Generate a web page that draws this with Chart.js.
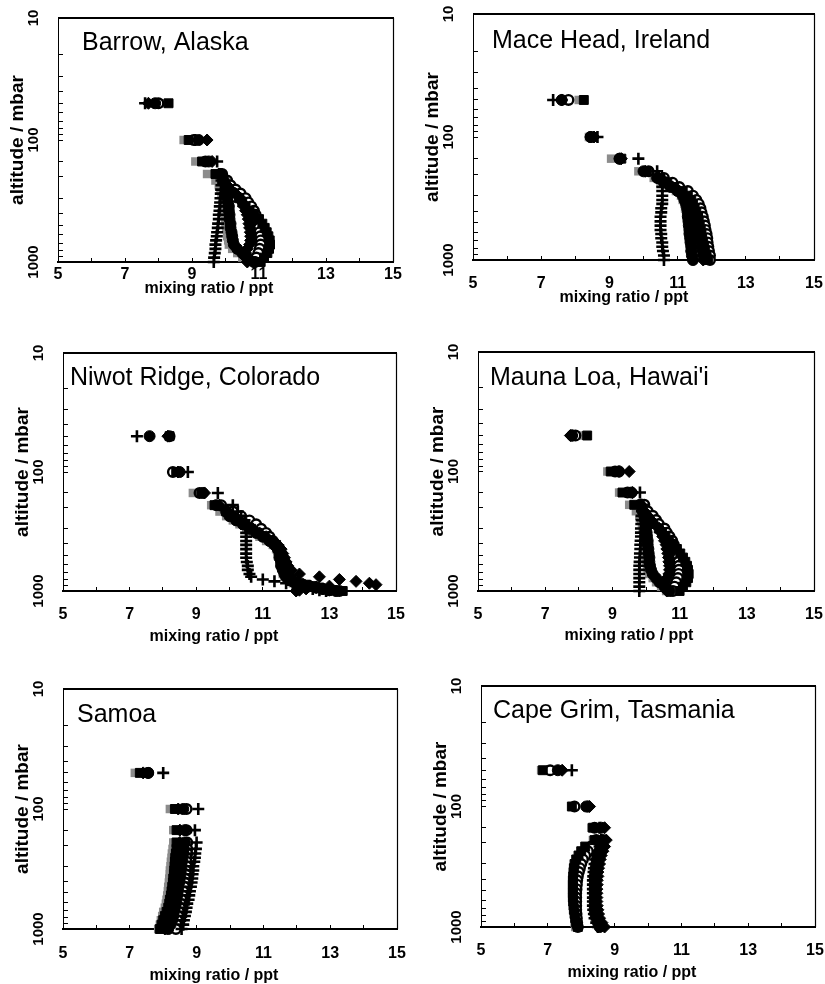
<!DOCTYPE html>
<html><head><meta charset="utf-8">
<script src="https://cdn.jsdelivr.net/npm/chart.js@4.4.1/dist/chart.umd.min.js"></script>
<style>
html,body{margin:0;padding:0;background:#fff;}
body{width:825px;height:984px;position:relative;overflow:hidden;}
canvas{position:absolute;}
</style></head><body>
<script>
// ---------- data ----------
const levels = [50,100,150,190,215,235,255,275,300,325,350,380,410,445,485,525,570,615,665,720,780,845,920,1000]; // mbar
const niwotLevels = [50,100,150,190,215,235,255,275,300,325,350,380,410,445,485,525,570,615,665,720,760,800,830,860,885,910,935,960,985,1000];
const xTickLabels = [5,7,9,11,13,15];
const yTickLabels = [10,100,1000];
const stationNames = ['Barrow, Alaska','Mace Head, Ireland','Niwot Ridge, Colorado',"Mauna Loa, Hawai'i",'Samoa','Cape Grim, Tasmania'];
const xAxisTitle = 'mixing ratio / ppt';
const yAxisTitle = 'altitude / mbar';

const barrowOpen    = [8.0,9.05,9.4,9.9,10.05,10.15,10.3,10.45,10.6,10.68,10.77,10.85,10.9,10.95,10.98,11.0,11.02,11.04,11.05,11.05,11.02,10.98,10.92,10.88];
const barrowBlack   = [8.3,8.9,9.3,9.7,9.9,10.0,10.1,10.25,10.4,10.5,10.6,10.72,10.85,11.0,11.1,11.17,11.23,11.28,11.32,11.33,11.3,11.25,11.15,11.05];
const barrowDiamond = [7.7,9.45,9.6,9.8,9.95,10.05,10.15,10.3,10.45,10.5,10.55,10.6,10.65,10.68,10.7,10.72,10.74,10.75,10.75,10.72,10.65,10.6,10.6,10.65];
const barrowFilled  = [7.9,9.2,9.5,9.85,9.95,10.0,10.02,10.05,10.05,10.08,10.1,10.1,10.12,10.12,10.15,10.15,10.18,10.2,10.22,10.25,10.35,10.5,10.65,10.85];
const barrowGrey    = [8.1,8.75,9.1,9.45,9.7,9.8,9.85,9.88,9.9,9.92,9.95,9.95,9.98,10.0,10.0,10.02,10.05,10.05,10.08,10.1,10.2,10.35,10.5,10.7];
const barrowPlus    = [7.6,9.1,9.75,9.85,9.88,9.88,9.87,9.86,9.85,9.84,9.83,9.82,9.8,9.8,9.78,9.77,9.75,9.74,9.72,9.7,9.7,9.68,9.66,9.65];

const maceOpen    = [7.8,8.45,9.3,10.15,10.6,10.85,11.05,11.3,11.45,11.55,11.62,11.67,11.7,11.74,11.77,11.8,11.82,11.85,11.87,11.88,11.9,11.92,11.95,11.95];
const maceBlack   = [8.25,8.5,9.35,10.1,10.5,10.7,10.9,11.15,11.3,11.4,11.45,11.5,11.55,11.6,11.62,11.65,11.68,11.7,11.72,11.75,11.78,11.8,11.85,11.9];
const maceDiamond = [7.6,8.55,9.35,10.05,10.45,10.65,10.85,11.05,11.2,11.3,11.35,11.4,11.45,11.5,11.52,11.55,11.58,11.6,11.62,11.65,11.68,11.7,11.72,11.75];
const maceFilled  = [7.6,8.45,9.3,10.0,10.4,10.6,10.8,11.0,11.15,11.2,11.25,11.28,11.3,11.3,11.32,11.33,11.35,11.35,11.37,11.38,11.4,11.4,11.42,11.45];
const maceGrey    = [8.1,8.4,9.05,9.85,10.3,10.5,10.75,10.95,11.1,11.15,11.2,11.22,11.25,11.27,11.28,11.3,11.3,11.32,11.33,11.35,11.37,11.4,11.42,11.45];
const macePlus    = [7.35,8.65,9.85,10.4,10.55,10.55,10.55,10.55,10.55,10.55,10.55,10.52,10.52,10.5,10.5,10.5,10.5,10.52,10.52,10.55,10.55,10.57,10.6,10.6];

const niwotOpen    = [8.2,8.3,9.1,9.75,10.1,10.35,10.6,10.8,10.95,11.1,11.2,11.3,11.4,11.5,11.55,11.6,11.65,11.7,11.72,11.75,11.8,11.85,11.9,12.0,12.2,12.4,12.6,12.8,13.0,13.3];
const niwotBlack   = [8.2,8.4,9.15,9.55,9.9,10.05,10.25,10.45,10.65,10.85,11.05,11.25,11.4,11.5,11.55,11.6,11.62,11.65,11.7,11.75,11.8,11.85,11.95,12.1,12.3,12.5,12.7,12.9,13.1,13.4];
const niwotDiamond = [8.15,8.45,9.25,9.7,9.95,10.1,10.3,10.5,10.7,10.9,11.1,11.3,11.45,11.55,11.6,11.65,11.7,11.75,11.85,12.1,12.7,13.3,13.8,14.2,14.4,13.0,12.6,12.3,12.1,12.0];
const niwotFilled  = [7.6,8.5,9.2,9.6,9.9,10.0,10.2,10.4,10.6,10.8,11.0,11.2,11.35,11.45,11.5,11.5,11.55,11.55,11.6,11.65,11.7,11.8,11.9,12.0,12.2,12.4,12.6,12.8,13.0,13.2];
const niwotGrey    = [8.2,8.3,8.9,9.45,9.7,9.9,10.1,10.3,10.5,10.7,10.9,11.1,11.3,11.4,11.45,11.5,11.5,11.55,11.6,11.6,11.65,11.7,11.8,11.9,12.1,12.3,12.5,12.7,12.9,13.1];
const niwotPlus    = [7.22,8.75,9.65,10.1,10.25,10.35,10.45,10.5,10.5,10.5,10.5,10.5,10.5,10.5,10.5,10.5,10.52,10.55,10.55,10.6,10.65,11.0,11.35,11.7,11.9,12.1,12.3,12.5,12.7,12.9];

const maunaOpen    = [7.9,9.08,9.45,9.95,10.05,10.2,10.3,10.38,10.55,10.62,10.7,10.78,10.83,10.88,10.92,10.95,10.97,10.98,10.98,10.97,10.95,10.9,10.85,10.8];
const maunaBlack   = [8.25,8.95,9.3,9.65,9.9,10.0,10.1,10.2,10.38,10.48,10.58,10.68,10.8,10.92,11.02,11.1,11.17,11.22,11.25,11.27,11.25,11.2,11.1,11.0];
const maunaDiamond = [7.75,9.5,9.6,9.85,9.95,10.05,10.15,10.25,10.4,10.45,10.5,10.55,10.6,10.62,10.65,10.67,10.68,10.7,10.7,10.68,10.62,10.58,10.58,10.62];
const maunaFilled  = [7.8,9.2,9.57,9.82,9.9,9.95,9.97,10.0,10.0,10.02,10.03,10.05,10.05,10.07,10.08,10.1,10.1,10.12,10.15,10.2,10.3,10.4,10.55,10.7];
const maunaGrey    = [8.0,8.85,9.2,9.5,9.7,9.8,9.85,9.88,9.9,9.92,9.95,9.95,9.97,9.98,10.0,10.0,10.02,10.03,10.05,10.1,10.2,10.3,10.45,10.6];
const maunaPlus    = [7.8,9.2,9.82,9.88,9.88,9.87,9.87,9.86,9.85,9.85,9.85,9.84,9.83,9.83,9.82,9.82,9.81,9.8,9.8,9.8,9.8,9.8,9.8,9.8];

const samoaOpen    = [7.55,8.7,8.7,8.72,8.72,8.72,8.7,8.7,8.7,8.68,8.68,8.66,8.65,8.63,8.6,8.58,8.55,8.52,8.5,8.47,8.45,8.42,8.4,8.38];
const samoaBlack   = [7.3,8.35,8.4,8.4,8.4,8.38,8.36,8.35,8.34,8.33,8.32,8.3,8.29,8.27,8.25,8.23,8.2,8.18,8.15,8.1,8.05,8.0,7.95,7.9];
const samoaDiamond = [7.4,8.45,8.5,8.5,8.5,8.48,8.47,8.46,8.45,8.44,8.42,8.4,8.38,8.36,8.34,8.32,8.3,8.28,8.25,8.22,8.18,8.14,8.1,8.05];
const samoaFilled  = [7.55,8.6,8.65,8.65,8.62,8.6,8.58,8.56,8.55,8.53,8.52,8.5,8.48,8.46,8.44,8.42,8.4,8.38,8.35,8.32,8.3,8.27,8.22,8.15];
const samoaGrey    = [7.15,8.2,8.3,8.3,8.28,8.26,8.25,8.23,8.22,8.2,8.2,8.18,8.17,8.15,8.14,8.12,8.1,8.08,8.05,8.0,7.97,7.93,7.9,7.85];
const samoaPlus    = [8.0,9.05,8.95,9.0,8.98,8.96,8.95,8.93,8.9,8.9,8.88,8.87,8.85,8.83,8.8,8.78,8.76,8.72,8.7,8.68,8.65,8.62,8.6,8.55];

const capeOpen    = [7.07,7.8,8.4,8.45,8.3,8.2,8.12,8.05,8.0,7.96,7.93,7.9,7.88,7.87,7.86,7.85,7.85,7.85,7.85,7.85,7.86,7.87,7.88,7.9];
const capeBlack   = [6.85,7.72,8.35,8.4,8.12,8.0,7.92,7.85,7.8,7.78,7.77,7.76,7.75,7.75,7.75,7.75,7.75,7.76,7.77,7.78,7.8,7.82,7.85,7.9];
const capeDiamond = [7.43,8.25,8.7,8.75,8.7,8.65,8.6,8.57,8.55,8.52,8.5,8.5,8.48,8.48,8.47,8.47,8.47,8.47,8.48,8.5,8.52,8.55,8.62,8.7];
const capeFilled  = [7.3,8.15,8.6,8.65,8.6,8.55,8.5,8.47,8.45,8.43,8.42,8.4,8.4,8.4,8.4,8.4,8.4,8.4,8.4,8.4,8.42,8.45,8.5,8.55];
const capeGrey    = [6.8,7.75,8.3,8.35,8.15,8.05,7.97,7.92,7.88,7.85,7.83,7.81,7.8,7.8,7.8,7.79,7.79,7.79,7.79,7.8,7.8,7.8,7.8,7.82];
const capePlus    = [7.72,8.2,8.55,8.6,8.55,8.5,8.45,8.42,8.4,8.38,8.37,8.36,8.35,8.35,8.35,8.35,8.35,8.35,8.35,8.36,8.38,8.4,8.45,8.5];

// ---------- styling / layout ----------
const FONT = '"Liberation Sans", Arial, Helvetica, sans-serif';
// listed top-most first (Chart.js draws dataset 0 last)
const stylePlus    = {pointStyle:'cross',   pointRadius:6,   backgroundColor:'#000',    borderColor:'#000',    pointBorderWidth:2.6};
const styleBlack   = {pointStyle:'rect',    pointRadius:6.3, backgroundColor:'#000',    borderColor:'#000',    pointBorderWidth:1};
const styleDiamond = {pointStyle:'rectRot', pointRadius:6,   backgroundColor:'#000',    borderColor:'#000',    pointBorderWidth:1};
const styleFilled  = {pointStyle:'circle',  pointRadius:5.5, backgroundColor:'#000',    borderColor:'#000',    pointBorderWidth:1};
const styleOpen    = {pointStyle:'circle',  pointRadius:4.8, backgroundColor:'#fff',    borderColor:'#000',    pointBorderWidth:2.4};
const styleGrey    = {pointStyle:'rect',    pointRadius:6,   backgroundColor:'#8c8c8c', borderColor:'#8c8c8c', pointBorderWidth:0};
const seriesStyles = [stylePlus,styleBlack,styleDiamond,styleFilled,styleOpen,styleGrey];
const seriesLabels = ['crosses','black squares','diamonds','filled circles','open circles','grey squares'];

const panels = [
  {name:stationNames[0], L:58,  T:18,  R:393, B:262, tickPad:7,    titleDy:31, dx:24, dy:32, lev:levels,
   series:[barrowPlus,barrowBlack,barrowDiamond,barrowFilled,barrowOpen,barrowGrey]},
  {name:stationNames[1], L:473, T:14,  R:814, B:260, tickPad:17.5, titleDy:42, dx:19, dy:34, lev:levels,
   series:[macePlus,maceBlack,maceDiamond,maceFilled,maceOpen,maceGrey]},
  {name:stationNames[2], L:63,  T:353, R:396, B:591, tickPad:17.5, titleDy:50, dx:7,  dy:32, lev:niwotLevels,
   series:[niwotPlus,niwotBlack,niwotDiamond,niwotFilled,niwotOpen,niwotGrey]},
  {name:stationNames[3], L:478, T:352, R:814, B:591, tickPad:17.5, titleDy:49, dx:12, dy:33, lev:levels,
   series:[maunaPlus,maunaBlack,maunaDiamond,maunaFilled,maunaOpen,maunaGrey]},
  {name:stationNames[4], L:63,  T:689, R:397, B:929, tickPad:19,   titleDy:51, dx:14, dy:33, lev:levels,
   series:[samoaPlus,samoaBlack,samoaDiamond,samoaFilled,samoaOpen,samoaGrey]},
  {name:stationNames[5], L:481, T:686, R:815, B:927, tickPad:18,   titleDy:50, dx:12, dy:32, lev:levels,
   series:[capePlus,capeBlack,capeDiamond,capeFilled,capeOpen,capeGrey]}
];

const panelPlugin = {
  id:'panelText',
  afterDraw(chart, args, o){
    const ctx = chart.ctx, a = chart.chartArea;
    ctx.save();
    ctx.strokeStyle = '#000';
    ctx.lineWidth = 2;
    ctx.beginPath(); ctx.moveTo(a.left, a.top); ctx.lineTo(a.right+1, a.top); ctx.stroke();
    ctx.lineWidth = 1.2;
    ctx.beginPath(); ctx.moveTo(a.right+0.5, a.top); ctx.lineTo(a.right+0.5, a.bottom); ctx.stroke();
    ctx.fillStyle = '#000';
    ctx.font = '25px ' + FONT;
    ctx.textAlign = 'left'; ctx.textBaseline = 'alphabetic';
    ctx.fillText(o.label, a.left + o.dx, a.top + o.dy);
    ctx.font = 'bold 16px ' + FONT;
    ctx.textAlign = 'center';
    ctx.fillText(o.xTitle, a.left + 151, a.bottom + o.titleDy);
    ctx.restore();
  }
};

panels.forEach((p) => {
  const cv = document.createElement('canvas');
  const w = (p.R - p.L) + 90, h = (p.B - p.T) + 85;
  cv.width = w; cv.height = h;
  cv.style.left = (p.L - 60) + 'px'; cv.style.top = (p.T - 25) + 'px';
  cv.style.width = w + 'px'; cv.style.height = h + 'px';
  document.body.appendChild(cv);
  const datasets = p.series.map((xs, i) => Object.assign({
    label: seriesLabels[i],
    data: p.lev.map((lev, k) => ({x: xs[k], y: lev})),
    showLine: false,
    clip: false,
    pointHoverRadius: 0
  }, seriesStyles[i]));
  new Chart(cv, {
    type: 'scatter',
    data: {datasets},
    plugins: [panelPlugin],
    options: {
      responsive: false,
      animation: false,
      devicePixelRatio: 1,
      layout: {padding: {left:0, top:25, right:30, bottom:0}},
      plugins: {
        legend: {display:false}, tooltip: {enabled:false},
        panelText: {label: p.name, dx: p.dx, dy: p.dy, xTitle: xAxisTitle, titleDy: p.titleDy}
      },
      scales: {
        x: {
          type:'linear', min:5, max:15, position:'bottom',
          afterFit: s => { s.height = 60; },
          border: {display:true, color:'#000', width:2},
          grid: {display:true, drawOnChartArea:false, drawTicks:true, tickLength:-4, color:'#000', lineWidth:1},
          ticks: {stepSize:1, autoSkip:false, maxRotation:0, minRotation:0, padding:p.tickPad, color:'#000',
                  font:{family:FONT, size:16, weight:'bold'},
                  callback: v => xTickLabels.includes(v) ? String(v) : ''}
        },
        y: {
          type:'logarithmic', min:10, max:1000, reverse:true, position:'left',
          afterFit: s => { s.width = 60; },
          border: {display:true, color:'#000', width:1},
          grid: {display:true, drawOnChartArea:false, drawTicks:true, tickLength:-5, color:'#000', lineWidth:1},
          ticks: {autoSkip:false, minRotation:90, maxRotation:90, crossAlign:'center', padding:12.3, color:'#000',
                  font:{family:FONT, size:15, weight:'bold'},
                  callback: v => yTickLabels.includes(v) ? String(v) : ''},
          title: {display:true, text:yAxisTitle, color:'#000', font:{family:FONT, size:19, weight:'bold'}, padding:{top:8.6, bottom:0}}
        }
      }
    }
  });
});
</script>
</body></html>
